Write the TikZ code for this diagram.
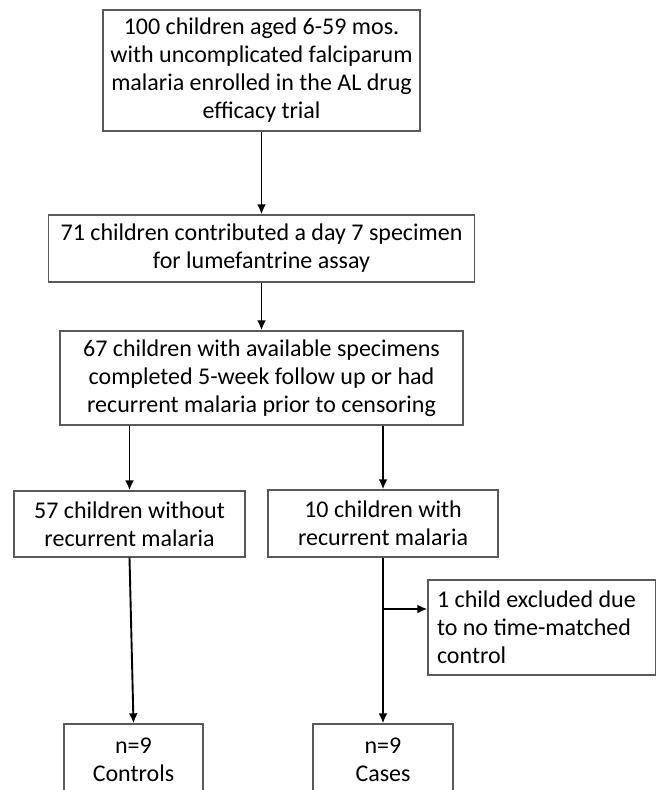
\documentclass[tikz,border=0pt]{standalone}
\usepackage{fontspec}
\setmainfont{Carlito}
\usetikzlibrary{arrows.meta,positioning}
\tikzset{>={Latex[width=4.5pt,length=5pt]}}
\tikzset{flowbox/.style={draw=black!65, line width=0.7pt, fill=white, align=center,
    inner sep=2pt, font=\fontsize{12}{14}\selectfont},
  flowarrow/.style={->, line width=0.95pt}}

\begin{document}
\begin{tikzpicture}[x=0.5pt,y=-0.5pt]

  \useasboundingbox (0,0) rectangle (656,790);

  %% main column
  \node[flowbox, minimum width=158.5pt, minimum height=60.5pt] (enrolled) at (261.5,70.5)
    {100 children aged 6-59 mos.\\with uncomplicated falciparum\\malaria enrolled in the AL drug\\efficacy trial};
  \node[flowbox, minimum width=213pt, minimum height=33.5pt] (specimen) at (261.5,248.5)
    {71 children contributed a day 7 specimen\\for lumefantrine assay};
  \node[flowbox, minimum width=201.5pt, minimum height=47pt] (followup) at (261.5,378)
    {67 children with available specimens\\completed 5-week follow up or had\\recurrent malaria prior to censoring};

  %% split
  \node[flowbox, minimum width=115.5pt, minimum height=33pt] (norecur) at (129.5,524)
    {57 children without\\recurrent malaria};
  \node[flowbox, minimum width=115pt, minimum height=33.5pt] (recur) at (383,523.5)
    {10 children with\\recurrent malaria};
  \node[flowbox, align=flush left, inner xsep=4.5pt, text width=105pt, minimum height=47.5pt] (excluded) at (542,627.5)
    {1 child excluded due\\to no time-matched\\control};

  %% groups (bottom edge runs off the page)
  \node[flowbox, minimum width=69.5pt, minimum height=36pt] (controls) at (133.5,760)
    {n=9\\Controls};
  \node[flowbox, minimum width=70pt, minimum height=36pt] (cases) at (383,760)
    {n=9\\Cases};

  \coordinate (branch) at (383,609);

  \draw[flowarrow] (enrolled) -- (specimen);
  \draw[flowarrow] (specimen) -- (followup);
  \draw[flowarrow] (followup.south -| norecur.north) -- (norecur.north);
  \draw[flowarrow] (followup.south -| recur.north) -- (recur.north);
  \draw[flowarrow] (norecur.south) -- (controls.north);
  \draw[flowarrow] (recur) -- (cases);
  \draw[flowarrow] (branch) -- (branch -| excluded.west); %% excluded

\end{tikzpicture}
\end{document}
